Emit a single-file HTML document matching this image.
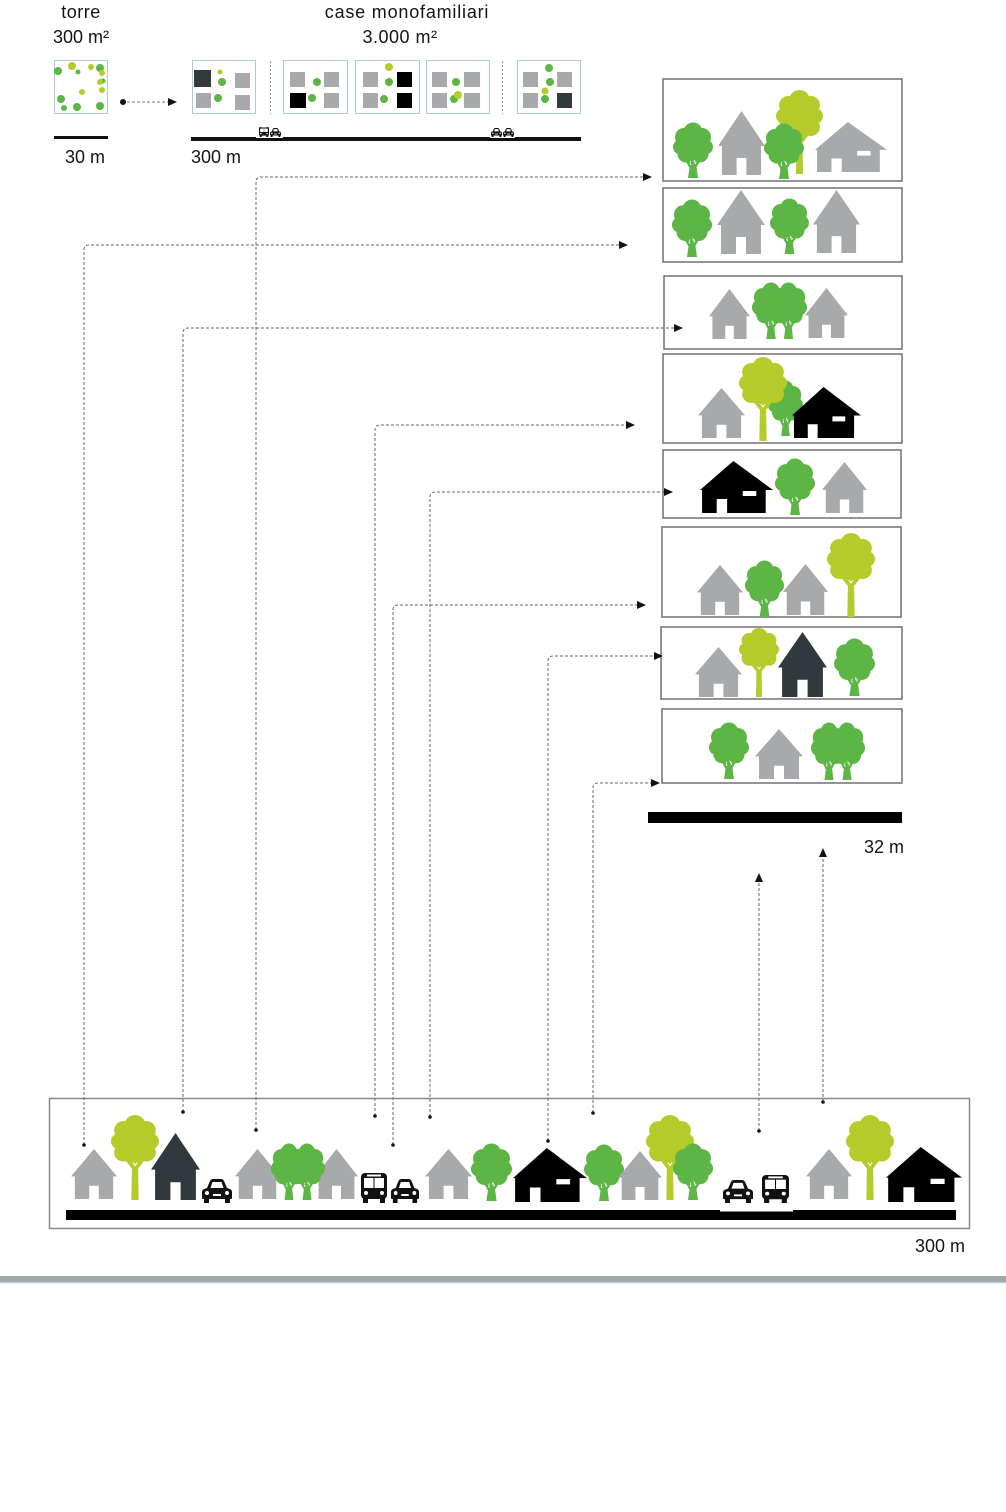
<!DOCTYPE html>
<html><head><meta charset="utf-8"><style>
html,body{margin:0;padding:0;background:#fff;}
svg{display:block;}
text{font-family:"Liberation Sans",sans-serif;fill:#141414;font-size:18px;}
</style></head><body>
<svg width="1006" height="1512" viewBox="0 0 1006 1512" xmlns="http://www.w3.org/2000/svg">
<defs>
<symbol id="gh" viewBox="0 0 48 64" preserveAspectRatio="none">
<path fill="currentColor" d="M24 0 L48 35 L44 35 L44 64 L29 64 L29 47 L19 47 L19 64 L4 64 L4 35 L0 35 Z"/>
</symbol>
<symbol id="wh" viewBox="0 0 70 52" preserveAspectRatio="none">
<path fill="currentColor" fill-rule="evenodd" d="M32 0 L70 29 L63 29 L63 52 L26 52 L26 38 L16 38 L16 52 L2 52 L2 29 L0 29 Z M41 30 H54 V35 H41 Z"/>
</symbol>
<symbol id="t" viewBox="0 0 40 56" preserveAspectRatio="none">
<g fill="currentColor">
<circle cx="20" cy="10" r="9.5"/><circle cx="11" cy="15" r="9"/><circle cx="29" cy="15" r="9"/>
<circle cx="7.5" cy="25" r="7.5"/><circle cx="32.5" cy="25" r="7.5"/><circle cx="13" cy="32" r="8.5"/>
<circle cx="27" cy="32" r="8.5"/><circle cx="20" cy="22" r="14"/>
<path d="M15 56 L25 56 L23.5 45 L28 38 L25 36 L21 41 L20.5 37 L18 37 L18 41 L14 36 L12 38 L16.5 46 Z"/>
</g>
<path d="M17 41 L18 43 M23 40 L22 42" stroke="#fff" stroke-width="1"/>
</symbol>
<symbol id="lt" viewBox="0 0 46 84" preserveAspectRatio="none">
<g fill="currentColor">
<circle cx="23" cy="10" r="10"/><circle cx="12" cy="15" r="9"/><circle cx="34" cy="15" r="9"/>
<circle cx="8" cy="26" r="8"/><circle cx="38" cy="26" r="8"/><circle cx="12" cy="37" r="9"/>
<circle cx="34" cy="37" r="9"/><circle cx="23" cy="39" r="10"/><circle cx="23" cy="25" r="15"/>
<path d="M19.5 84 L26.5 84 L26 53 L32 45 L29 43 L23 50 L17 43 L14 45 L20 53 Z"/>
</g>
<path d="M21 47 L23 50 L25 47" stroke="#fff" stroke-width="1" fill="none"/>
</symbol>
<symbol id="car" viewBox="0 0 30 24" preserveAspectRatio="none">
<path fill="#111" d="M5 9 L8 2 Q9 0 11 0 L19 0 Q21 0 22 2 L25 9 L28 10 Q30 11 30 13 L30 19 Q30 20 29 20 L1 20 Q0 20 0 19 L0 13 Q0 11 2 10 Z"/>
<path fill="#fff" d="M8.5 9 L10.5 3 L19.5 3 L21.5 9 Z"/>
<circle cx="5" cy="14" r="2" fill="#fff"/><circle cx="25" cy="14" r="2" fill="#fff"/>
<rect x="11" y="15" width="8" height="2" fill="#fff"/>
<rect x="2" y="19" width="5" height="5" fill="#111"/><rect x="23" y="19" width="5" height="5" fill="#111"/>
</symbol>
<symbol id="bus" viewBox="0 0 26 30" preserveAspectRatio="none">
<rect x="0" y="0" width="26" height="26" rx="4" fill="#111"/>
<rect x="3" y="5" width="9.5" height="10" fill="#fff"/><rect x="13.5" y="5" width="9.5" height="10" fill="#fff"/>
<rect x="6" y="1.5" width="14" height="2" fill="#fff"/>
<circle cx="5" cy="20" r="2" fill="#fff"/><circle cx="21" cy="20" r="2" fill="#fff"/>
<rect x="2" y="25" width="5" height="5" fill="#111"/><rect x="19" y="25" width="5" height="5" fill="#111"/>
</symbol>
</defs>

<rect width="1006" height="1512" fill="#fff"/>

<!-- top labels -->
<text x="81" y="18" text-anchor="middle" style="letter-spacing:0.5px">torre</text>
<text x="81" y="43" text-anchor="middle">300 m²</text>
<text x="407" y="18" text-anchor="middle" style="letter-spacing:0.8px">case monofamiliari</text>
<text x="400" y="43" text-anchor="middle" style="letter-spacing:0.5px">3.000 m²</text>

<!-- torre tile -->
<rect x="54.5" y="60.5" width="53" height="53" fill="#fff" stroke="#a6d0d2" stroke-width="1"/>
<g fill="#5cb545">
<circle cx="58" cy="71" r="4"/><circle cx="78" cy="72" r="2.5"/><circle cx="100" cy="68" r="4"/>
<circle cx="103" cy="81" r="2.5"/><circle cx="61" cy="99" r="4"/><circle cx="64" cy="108" r="3"/>
<circle cx="77" cy="107" r="4"/><circle cx="100" cy="106" r="4"/>
</g>
<g fill="#b5cb2a">
<circle cx="72" cy="66" r="4"/><circle cx="91" cy="67" r="3"/><circle cx="102" cy="73" r="3"/>
<circle cx="100" cy="82" r="3"/><circle cx="102" cy="90" r="3"/><circle cx="82" cy="92" r="3"/>
</g>
<circle cx="123" cy="102" r="3" fill="#111"/>
<line x1="127" y1="102" x2="168" y2="102" stroke="#777" stroke-width="1" stroke-dasharray="3 2"/>
<polygon points="177,102 168,98 168,106" fill="#111"/>
<rect x="54" y="136" width="54" height="3" fill="#111"/>
<text x="65" y="163">30 m</text>

<!-- case tiles -->
<g fill="#fff" stroke="#a6d0d2" stroke-width="1">
<rect x="192.5" y="60.5" width="63" height="53"/>
<rect x="283.5" y="60.5" width="64" height="53"/>
<rect x="355.5" y="60.5" width="64" height="53"/>
<rect x="426.5" y="60.5" width="63" height="53"/>
<rect x="517.5" y="60.5" width="63" height="53"/>
</g>
<line x1="270.5" y1="61" x2="270.5" y2="114" stroke="#999" stroke-dasharray="2 2"/>
<line x1="502.5" y1="61" x2="502.5" y2="114" stroke="#999" stroke-dasharray="2 2"/>
<g fill="#a7a9ab">
<rect x="235" y="73" width="15" height="15"/><rect x="196" y="93" width="15" height="15"/><rect x="235" y="95" width="15" height="15"/>
<rect x="290" y="72" width="15" height="15"/><rect x="324" y="72" width="15" height="15"/><rect x="324" y="93" width="15" height="15"/>
<rect x="363" y="72" width="15" height="15"/><rect x="363" y="93" width="15" height="15"/>
<rect x="432" y="72" width="15" height="15"/><rect x="464" y="72" width="16" height="15"/><rect x="432" y="93" width="15" height="15"/><rect x="464" y="93" width="16" height="15"/>
<rect x="523" y="72" width="15" height="15"/><rect x="557" y="72" width="15" height="15"/><rect x="523" y="93" width="15" height="15"/>
</g>
<rect x="194" y="70" width="17" height="17" fill="#333a3e"/>
<rect x="557" y="93" width="15" height="15" fill="#333a3e"/>
<g fill="#000">
<rect x="290" y="93" width="16" height="15"/>
<rect x="397" y="72" width="15" height="15"/><rect x="397" y="93" width="15" height="15"/>
</g>
<g fill="#5cb545">
<circle cx="222" cy="82" r="4"/><circle cx="218" cy="98" r="4"/>
<circle cx="317" cy="82" r="4"/><circle cx="312" cy="98" r="4"/>
<circle cx="389" cy="82" r="4"/><circle cx="384" cy="99" r="4"/>
<circle cx="456" cy="82" r="4"/><circle cx="454" cy="99" r="4"/>
<circle cx="549" cy="68" r="4"/><circle cx="550" cy="82" r="4"/><circle cx="545" cy="99" r="4"/>
</g>
<g fill="#b5cb2a">
<circle cx="220" cy="72" r="2.5"/><circle cx="389" cy="67" r="4"/><circle cx="458" cy="95" r="4"/><circle cx="545" cy="91" r="3.5"/>
</g>
<rect x="191" y="137" width="390" height="4" fill="#111"/>
<rect x="256" y="136" width="27" height="2" fill="#fff"/>
<rect x="490" y="136" width="25" height="2" fill="#fff"/>
<use href="#bus" x="259" y="127" width="10" height="10"/>
<use href="#car" x="270" y="128" width="11" height="9"/>
<use href="#car" x="491" y="128" width="11" height="9"/>
<use href="#car" x="503" y="128" width="11" height="9"/>
<text x="191" y="163">300 m</text>

<!-- right panels -->
<g fill="#fff" stroke="#6f7072" stroke-width="1.5">
<rect x="663" y="79" width="239" height="102"/>
<rect x="663" y="188" width="239" height="74"/>
<rect x="664" y="276" width="238" height="73"/>
<rect x="663" y="354" width="239" height="89"/>
<rect x="663" y="450" width="238" height="68"/>
<rect x="662" y="527" width="239" height="90"/>
<rect x="661" y="627" width="241" height="72"/>
<rect x="662" y="709" width="240" height="74"/>
</g>

<!-- P1 -->
<use href="#t" x="673" y="122" width="40" height="56" style="color:#5cb545"/>
<use href="#gh" x="718" y="111" width="47" height="64" style="color:#a7a9ab"/>
<use href="#lt" x="776" y="90" width="47" height="84" style="color:#b5cb2a"/>
<use href="#t" x="764" y="123" width="40" height="56" style="color:#5cb545"/>
<use href="#wh" x="815" y="122" width="72" height="50" style="color:#a7a9ab"/>
<!-- P2 -->
<use href="#t" x="672" y="199" width="40" height="58" style="color:#5cb545"/>
<use href="#gh" x="717" y="190" width="48" height="64" style="color:#a7a9ab"/>
<use href="#t" x="770" y="198" width="39" height="56" style="color:#5cb545"/>
<use href="#gh" x="813" y="190" width="47" height="63" style="color:#a7a9ab"/>
<!-- P3 -->
<use href="#gh" x="709" y="289" width="41" height="50" style="color:#a7a9ab"/>
<use href="#gh" x="805" y="288" width="43" height="50" style="color:#a7a9ab"/>
<use href="#t" x="752" y="282" width="38" height="57" style="color:#5cb545"/>
<use href="#t" x="770" y="282" width="37" height="57" style="color:#5cb545"/>
<!-- P4 -->
<use href="#gh" x="698" y="388" width="47" height="50" style="color:#a7a9ab"/>
<use href="#t" x="768" y="380" width="35" height="56" style="color:#5cb545"/>
<use href="#lt" x="739" y="357" width="48" height="84" style="color:#b5cb2a"/>
<use href="#wh" x="792" y="387" width="69" height="51" style="color:#000"/>
<!-- P5 -->
<use href="#wh" x="700" y="461" width="73" height="52" style="color:#000"/>
<use href="#t" x="775" y="458" width="40" height="57" style="color:#5cb545"/>
<use href="#gh" x="822" y="462" width="45" height="51" style="color:#a7a9ab"/>
<!-- P6 -->
<use href="#gh" x="697" y="565" width="46" height="50" style="color:#a7a9ab"/>
<use href="#t" x="745" y="560" width="39" height="57" style="color:#5cb545"/>
<use href="#gh" x="783" y="564" width="45" height="51" style="color:#a7a9ab"/>
<use href="#lt" x="827" y="533" width="48" height="84" style="color:#b5cb2a"/>
<!-- P7 -->
<use href="#gh" x="695" y="647" width="47" height="50" style="color:#a7a9ab"/>
<use href="#lt" x="739" y="628" width="40" height="69" style="color:#b5cb2a"/>
<use href="#gh" x="778" y="632" width="49" height="65" style="color:#32393d"/>
<use href="#t" x="834" y="638" width="41" height="58" style="color:#5cb545"/>
<!-- P8 -->
<use href="#t" x="709" y="722" width="40" height="57" style="color:#5cb545"/>
<use href="#gh" x="755" y="729" width="48" height="50" style="color:#a7a9ab"/>
<use href="#t" x="811" y="722" width="36" height="58" style="color:#5cb545"/>
<use href="#t" x="829" y="722" width="36" height="58" style="color:#5cb545"/>

<!-- 32 m bar -->
<rect x="648" y="812" width="254" height="11" fill="#000"/>
<text x="864" y="853">32 m</text>

<!-- bottom frame -->
<rect x="49.5" y="1098.5" width="920" height="130" fill="#fff" stroke="#888" stroke-width="1.5"/>
<use href="#gh" x="71" y="1149" width="46" height="50" style="color:#a7a9ab"/>
<use href="#lt" x="111" y="1115" width="48" height="85" style="color:#b5cb2a"/>
<use href="#gh" x="151" y="1133" width="49" height="67" style="color:#32393d"/>
<use href="#car" x="202" y="1179" width="30" height="24"/>
<use href="#gh" x="235" y="1149" width="45" height="50" style="color:#a7a9ab"/>
<use href="#gh" x="315" y="1149" width="43" height="50" style="color:#a7a9ab"/>
<use href="#t" x="271" y="1143" width="36" height="57" style="color:#5cb545"/>
<use href="#t" x="289" y="1143" width="36" height="57" style="color:#5cb545"/>
<use href="#bus" x="361" y="1173" width="26" height="30"/>
<use href="#car" x="391" y="1179" width="28" height="24"/>
<use href="#gh" x="425" y="1149" width="47" height="50" style="color:#a7a9ab"/>
<use href="#t" x="471" y="1143" width="41" height="58" style="color:#5cb545"/>
<use href="#wh" x="513" y="1148" width="74" height="54" style="color:#000"/>
<use href="#t" x="584" y="1144" width="40" height="57" style="color:#5cb545"/>
<use href="#gh" x="618" y="1151" width="44" height="49" style="color:#a7a9ab"/>
<use href="#lt" x="646" y="1115" width="48" height="85" style="color:#b5cb2a"/>
<use href="#t" x="673" y="1143" width="40" height="57" style="color:#5cb545"/>
<use href="#car" x="723" y="1180" width="30" height="23"/>
<use href="#bus" x="762" y="1175" width="27" height="28"/>
<use href="#gh" x="806" y="1149" width="46" height="50" style="color:#a7a9ab"/>
<use href="#lt" x="846" y="1115" width="48" height="85" style="color:#b5cb2a"/>
<use href="#wh" x="886" y="1147" width="76" height="55" style="color:#000"/>
<rect x="66" y="1210" width="890" height="10" fill="#000"/>
<rect x="720" y="1210" width="73" height="1.5" fill="#fff"/>
<text x="915" y="1252">300 m</text>

<!-- connectors -->
<g fill="none" stroke="#666" stroke-width="1" stroke-dasharray="3 2">
<path d="M256 1130 V182 Q256 177 261 177 H644"/>
<path d="M84 1145 V250 Q84 245 89 245 H620"/>
<path d="M183 1112 V333 Q183 328 188 328 H675"/>
<path d="M375 1116 V430 Q375 425 380 425 H627"/>
<path d="M430 1117 V497 Q430 492 435 492 H665"/>
<path d="M393 1145 V610 Q393 605 398 605 H638"/>
<path d="M548 1141 V661 Q548 656 553 656 H655"/>
<path d="M593 1113 V788 Q593 783 598 783 H652"/>
<path d="M759 1131 V881"/>
<path d="M823 1102 V856"/>
</g>
<g fill="#111">
<polygon points="652,177 643,173 643,181"/>
<polygon points="628,245 619,241 619,249"/>
<polygon points="683,328 674,324 674,332"/>
<polygon points="635,425 626,421 626,429"/>
<polygon points="673,492 664,488 664,496"/>
<polygon points="646,605 637,601 637,609"/>
<polygon points="663,656 654,652 654,660"/>
<polygon points="660,783 651,779 651,787"/>
<polygon points="759,873 755,882 763,882"/>
<polygon points="823,848 819,857 827,857"/>
<circle cx="256" cy="1130" r="1.8"/><circle cx="84" cy="1145" r="1.8"/>
<circle cx="183" cy="1112" r="1.8"/><circle cx="375" cy="1116" r="1.8"/>
<circle cx="430" cy="1117" r="1.8"/><circle cx="393" cy="1145" r="1.8"/>
<circle cx="548" cy="1141" r="1.8"/><circle cx="593" cy="1113" r="1.8"/>
<circle cx="759" cy="1131" r="1.8"/><circle cx="823" cy="1102" r="1.8"/>
</g>

<!-- separator -->
<rect x="0" y="1276" width="1006" height="6" fill="#a3a8aa"/>
<rect x="0" y="1282" width="1006" height="1.5" fill="#bcdcdc"/>
</svg>
</body></html>
